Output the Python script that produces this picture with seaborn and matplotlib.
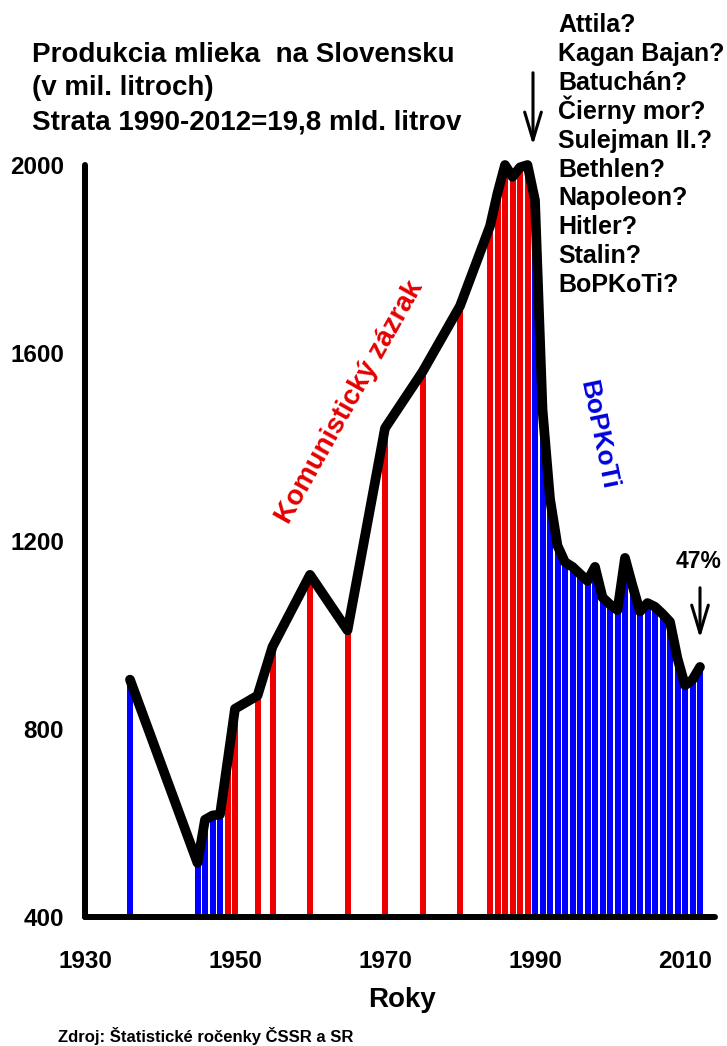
import matplotlib
matplotlib.use("Agg")
import matplotlib.pyplot as plt
import seaborn as sns
import pandas as pd

# ---------------- data ----------------
roky = [1936, 1945, 1946, 1947, 1948, 1949, 1950, 1953, 1955, 1960, 1965,
        1970, 1975, 1980, 1984, 1985, 1986, 1987, 1988, 1989,
        1990, 1991, 1992, 1993, 1994, 1995, 1996, 1997, 1998, 1999,
        2000, 2001, 2002, 2003, 2004, 2005, 2006, 2007, 2008, 2009,
        2010, 2011, 2012]
mlieko = [905, 515, 607, 616, 618, 730, 843, 871, 975, 1128, 1010,
          1440, 1560, 1700, 1870, 1940, 2000, 1975, 1995, 2000,
          1925, 1480, 1290, 1190, 1155, 1145, 1130, 1115, 1145, 1080,
          1065, 1053, 1164, 1105, 1050, 1068, 1060, 1045, 1028, 950,
          893, 905, 932]
obdobie = ["pred" if r < 1949 else ("komunizmus" if r <= 1989 else "po")
           for r in roky]

x_ticks = [1930, 1950, 1970, 1990, 2010]
y_ticks = [400, 800, 1200, 1600, 2000]

nadpis = ["Produkcia mlieka  na Slovensku",
          "(v mil. litroch)",
          "Strata 1990-2012=19,8 mld. litrov"]
vinnici = ["Attila?", "Kagan Bajan?", "Batuchán?", "Čierny mor?",
           "Sulejman II.?", "Bethlen?", "Napoleon?", "Hitler?", "Stalin?",
           "BoPKoTi?"]

farby = {"pred": "#0000ff", "komunizmus": "#ee0000", "po": "#0000ff"}

df = pd.DataFrame({"rok": roky, "mlieko": mlieko, "obdobie": obdobie})

# ---------------- style ----------------
sns.set_style("white")
plt.rcParams["font.family"] = ["Liberation Sans", "DejaVu Sans"]
plt.rcParams["font.weight"] = "bold"
plt.rcParams["text.color"] = "black"
plt.rcParams["xtick.color"] = "black"
plt.rcParams["ytick.color"] = "black"
plt.rcParams["xtick.labelcolor"] = "black"
plt.rcParams["ytick.labelcolor"] = "black"

W, H = 727, 1046
fig = plt.figure(figsize=(W / 100, H / 100), dpi=100)
fig.patch.set_facecolor("white")


def fp(x, y):
    return (x / W, 1 - y / H)


ax = fig.add_axes([85 / W, 1 - 917 / H, 630 / W, (917 - 165) / H])
ax.set_facecolor("white")

sns.barplot(data=df, x="rok", y="mlieko", hue="obdobie", palette=farby,
            native_scale=True, width=0.8, dodge=False, errorbar=None,
            legend=False, saturation=1, linewidth=0, orient="x", ax=ax,
            zorder=1)
sns.lineplot(data=df, x="rok", y="mlieko", color="black", linewidth=7,
             errorbar=None, ax=ax, clip_on=False, solid_joinstyle="round",
             solid_capstyle="round", zorder=5)

ax.set_xlim(1930, 2014)
ax.set_ylim(400, 2000)
ax.set_xticks(x_ticks)
ax.set_yticks(y_ticks)
ax.set_xticklabels([str(t) for t in x_ticks])
ax.set_yticklabels([str(t) for t in y_ticks])
ax.set_xlabel("")
ax.set_ylabel("")

for s in ["top", "right"]:
    ax.spines[s].set_visible(False)
for s in ["left", "bottom"]:
    ax.spines[s].set_linewidth(4.3)
    ax.spines[s].set_color("black")
    ax.spines[s].set_capstyle("round")
    ax.spines[s].set_zorder(6)

ax.tick_params(axis="y", length=8, width=4.3, direction="out", pad=7,
               labelsize=17.5, colors="black")
ax.tick_params(axis="x", length=11, width=4.3, direction="out", pad=13,
               labelsize=17.5, colors="black")
for lbl in ax.get_xticklabels() + ax.get_yticklabels():
    lbl.set_fontweight("bold")
    lbl.set_color("black")

# ---------------- texts ----------------
for i, t in enumerate(nadpis):
    fig.text(*fp(31.5, [62, 95, 130][i]), t, fontsize=20, color="black",
             fontweight="bold", va="baseline", ha="left")

for i, t in enumerate(vinnici):
    fig.text(*fp(558.5, 32 + 28.9 * i), t, fontsize=18, color="black",
             fontweight="bold", va="baseline", ha="left")

fig.text(*fp(350, 402), "Komunistický zázrak", color="#e60000",
         fontsize=20, fontweight="bold", rotation=60.6,
         rotation_mode="anchor", ha="center", va="center")
fig.text(*fp(598, 435), "BoPKoTi", color="#0000dd",
         fontsize=19, fontweight="bold", rotation=-78.4,
         rotation_mode="anchor", ha="center", va="center")

fig.text(*fp(698.5, 568), "47%", fontsize=16.5, fontweight="bold",
         color="black", ha="center", va="baseline")

arrow = dict(arrowstyle="->,head_length=1.0,head_width=0.3",
             color="black", lw=2.2, mutation_scale=20)
ax.annotate("", xy=fp(533, 148), xycoords="figure fraction",
            xytext=fp(533, 70), textcoords="figure fraction",
            arrowprops=arrow, annotation_clip=False)
ax.annotate("", xy=fp(700, 641), xycoords="figure fraction",
            xytext=fp(700, 585), textcoords="figure fraction",
            arrowprops=arrow, annotation_clip=False)

fig.text(*fp(402, 1007), "Roky", fontsize=20, fontweight="bold",
         color="black", ha="center", va="baseline")
fig.text(*fp(58, 1042), "Zdroj: Štatistické ročenky ČSSR a SR",
         fontsize=12, fontweight="bold", color="black", ha="left",
         va="baseline")

fig.savefig("out.png", dpi=100, facecolor="white")
